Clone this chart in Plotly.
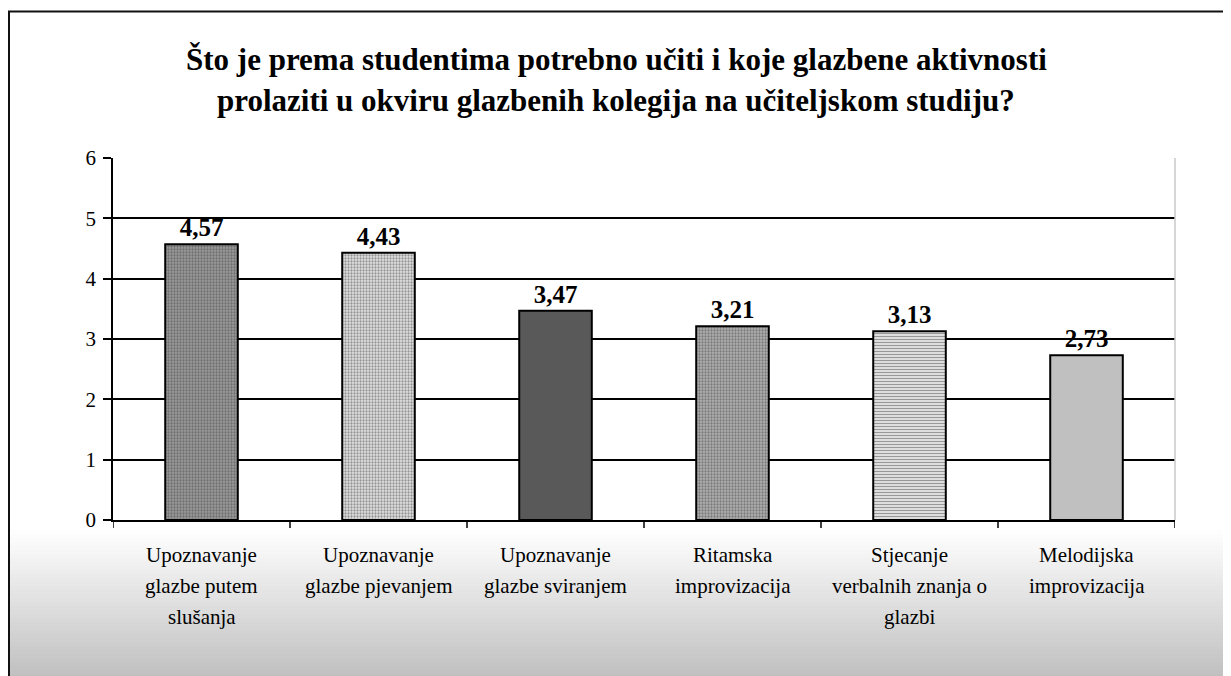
import plotly.graph_objects as go

categories = [
    "Upoznavanje<br>glazbe putem<br>slušanja",
    "Upoznavanje<br>glazbe pjevanjem",
    "Upoznavanje<br>glazbe sviranjem",
    "Ritamska<br>improvizacija",
    "Stjecanje<br>verbalnih znanja o<br>glazbi",
    "Melodijska<br>improvizacija",
]
values = [4.57, 4.43, 3.47, 3.21, 3.13, 2.73]
value_labels = ["4,57", "4,43", "3,47", "3,21", "3,13", "2,73"]
y_ticks = [0, 1, 2, 3, 4, 5, 6]

title = ("Što je prema studentima potrebno učiti i koje glazbene aktivnosti<br>"
         "prolaziti u okviru glazbenih kolegija na učiteljskom studiju?")

pattern_shapes = [".", ".", "", ".", "-", ""]
base_colors = ["#9a9a9a", "#e2e2e2", "#595959", "#b0b0b0", "#ececec", "#c0c0c0"]
fg_colors = ["#6a6a6a", "#b8b8b8", "#595959", "#787878", "#c4c4c4", "#c0c0c0"]

FONT = "Liberation Serif, Times New Roman, serif"
OFF = 8  # page body margin
W, H = 1231 - OFF, 676 - OFF
ml = 113 - OFF
mt = 158 - OFF
mr = W - (1175 - OFF)
mb = H - (520 - OFF)
pw, ph = W - ml - mr, H - mt - mb

def px_x(p):
    return (p - OFF - ml) / pw

def px_y(p):
    return (H - mb - (p - OFF)) / ph

fig = go.Figure()
fig.add_trace(go.Bar(
    x=list(range(len(categories))),
    y=values,
    width=0.41,
    text=value_labels,
    textposition="outside",
    textfont=dict(family=FONT, size=25, color="black", weight="bold"),
    cliponaxis=False,
    marker=dict(
        color=base_colors,
        line=dict(color="black", width=2),
        pattern=dict(shape=pattern_shapes, fgcolor=fg_colors,
                     size=3, solidity=0.45, fillmode="overlay"),
    ),
    showlegend=False,
))

shapes = []
n = 40
y_top, y_bot = 530, 690
for i in range(n):
    t = (i + 0.5) / n
    g = int(round(255 - (255 - 186) * t))
    y0 = y_top + (y_bot - y_top) * i / n
    y1 = y_top + (y_bot - y_top) * (i + 1) / n + 0.6
    shapes.append(dict(type="rect", xref="paper", yref="paper",
                       x0=px_x(9), x1=px_x(1240), y0=px_y(y1), y1=px_y(y0),
                       fillcolor=f"rgb({g},{g},{g})", line=dict(width=0), layer="below"))
shapes.append(dict(type="rect", xref="paper", yref="paper",
                   x0=px_x(9), x1=px_x(1240), y0=px_y(690), y1=px_y(11.5),
                   line=dict(color="#111111", width=2), fillcolor="rgba(0,0,0,0)"))
for k in range(len(categories) + 1):
    shapes.append(dict(type="line", xref="x", yref="paper",
                       x0=k - 0.5, x1=k - 0.5, y0=0, y1=px_y(528),
                       line=dict(color="black", width=1.5)))
shapes.append(dict(type="line", xref="paper", yref="paper", x0=1, x1=1, y0=0, y1=1,
                   line=dict(color="#c8c8c8", width=1.5)))

annotations = []
for i, c in enumerate(categories):
    for j, line in enumerate(c.split("<br>")):
        annotations.append(dict(x=i, y=0, xref="x", yref="paper", text=line,
                                showarrow=False, yanchor="middle",
                                yshift=-35 - 31 * j,
                                font=dict(family=FONT, size=21, color="black")))

title_lines = title.split("<br>")
for j, line in enumerate(title_lines):
    annotations.append(dict(x=px_x(616), xref="paper", y=px_y(60 + 40 * j), yref="paper",
                            text=line, showarrow=False, yanchor="middle", xanchor="center",
                            font=dict(family=FONT, size=31, color="black", weight="bold")))

fig.update_layout(
    width=W, height=H,
    margin=dict(l=ml, r=mr, t=mt, b=mb),
    paper_bgcolor="white",
    plot_bgcolor="white",
    xaxis=dict(range=[-0.5, len(categories) - 0.5], showticklabels=False,
               showgrid=False, showline=True, linecolor="black", linewidth=1.5,
               ticks="", zeroline=False),
    yaxis=dict(range=[0, 6], tickvals=y_ticks, ticktext=[str(v) for v in y_ticks],
               showgrid=True, gridcolor="black", gridwidth=1.5,
               showline=True, linecolor="black", linewidth=1.5,
               ticks="outside", ticklen=8, tickcolor="black", tickwidth=1.5,
               ticklabelstandoff=3,
               tickfont=dict(family=FONT, size=21, color="black"),
               zeroline=False),
    shapes=shapes,
    annotations=annotations,
)

fig.write_html("out.html")
